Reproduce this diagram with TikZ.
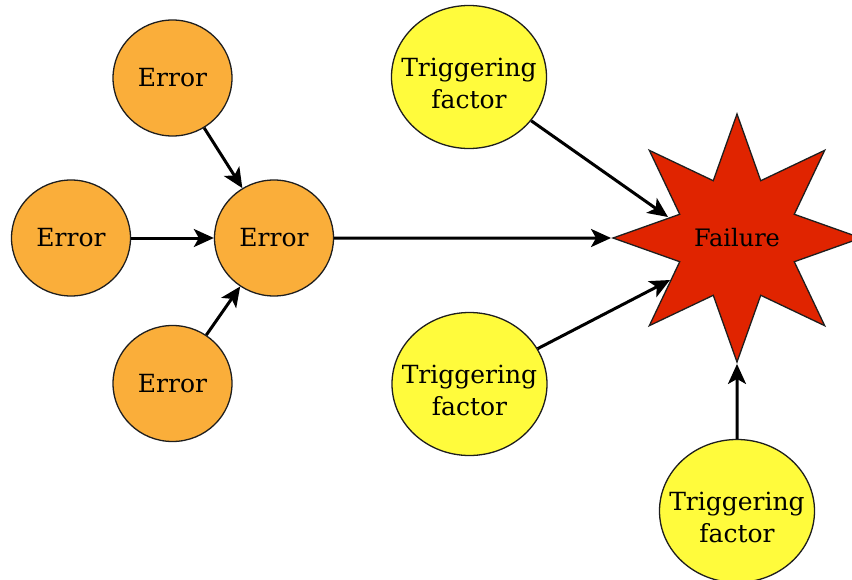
\documentclass[tikz,border=0pt]{standalone}
\usepackage{fontspec}
\setmainfont{DejaVu Serif}
\usetikzlibrary{shapes.geometric,arrows.meta}
\definecolor{errfill}{RGB}{250,174,58}
\definecolor{trigfill}{RGB}{255,251,60}
\definecolor{failfill}{RGB}{224,36,0}
\definecolor{rimcol}{RGB}{30,30,30}
% two-line label, set a little below the centre of its ellipse
\newcommand{\trigtext}{\rule{0pt}{31pt}Triggering\\factor}
\begin{document}
\begin{tikzpicture}[x=1pt,y=-1pt,
  errnode/.style={ellipse, draw=rimcol, line width=1.3pt, fill=errfill,
    minimum width=119pt, minimum height=116pt, inner sep=0pt,
    font=\fontsize{25}{30}\selectfont},
  trignode/.style={ellipse, draw=rimcol, line width=1.3pt, fill=trigfill,
    minimum width=155pt, minimum height=143pt, inner xsep=-20pt,
    inner ysep=0pt, align=center, font=\fontsize{25}{32}\selectfont},
  failnode/.style={star, star points=8, star point ratio=2,
    minimum size=248pt, inner sep=0pt, draw=rimcol, line width=1.3pt,
    fill=failfill, font=\fontsize{24}{30}\selectfont},
  link/.style={line width=3pt, -{Stealth[length=20pt,width=18pt,inset=5pt]}}]
\useasboundingbox (0,0) rectangle (852,579);

% error chain
\node[errnode] (e1) at (172.5,78) {Error};
\node[errnode] (e2) at (71,238) {Error};
\node[errnode] (e3) at (172.5,383.5) {Error};
\node[errnode] (em) at (274,238) {Error};

% triggering factors
\node[trignode] (t1) at (469,77) {\trigtext};
\node[trignode] (t2) at (469.5,384) {\trigtext};
\node[trignode] (t3) at (737,511) {\trigtext};

% failure
\node[failnode] (fail) at (737,238) {Failure};
\coordinate (hitA) at (668,217);
\coordinate (hitB) at (670,280);

% connectors
\draw[link] (e1) -- (em);
\draw[link] (e2) -- (em);
\draw[link] (e3) -- (em);
\draw[link] (em) -- (fail.west);
\draw[link] (t1) -- (hitA);
\draw[link] (t2) -- (hitB);
\draw[link] (t3) -- (fail.south);
\end{tikzpicture}
\end{document}
